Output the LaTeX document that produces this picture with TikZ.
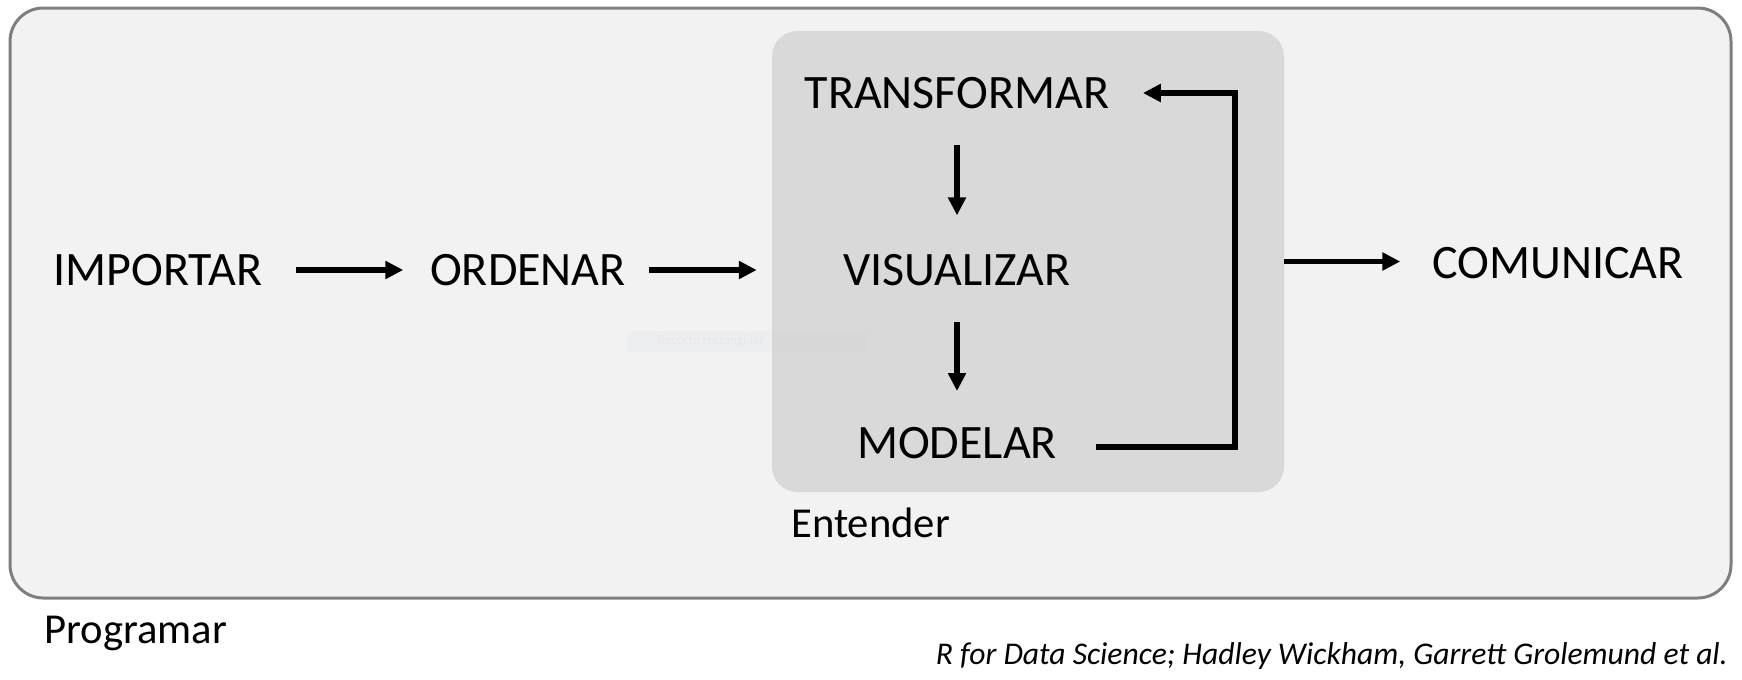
\documentclass[tikz,border=0pt]{standalone}
\usepackage{fontspec}
\setmainfont{Carlito}
\usetikzlibrary{arrows.meta,positioning}

\definecolor{outerfill}{RGB}{242,242,242}
\definecolor{outerline}{RGB}{127,127,127}
\definecolor{innerfill}{RGB}{217,217,217}
\definecolor{ghost}{RGB}{200,205,215}
\definecolor{ghosttext}{RGB}{230,230,232}

\begin{document}
\begin{tikzpicture}[x=0.75pt,y=-0.75pt,
  every node/.style={inner sep=0pt},
  stage/.style={font=\fontsize{36}{43}\selectfont},
  caption/.style={font=\fontsize{32}{38}\selectfont},
  flow/.style={line width=4pt,-{Triangle[length=13.5pt,width=13pt]}}]
\useasboundingbox (0,0) rectangle (1742,679);
    % frames
    \draw[fill=outerfill,draw=outerline,line width=2.25pt,rounded corners=25pt]
        (10,8) rectangle (1731,598);
    \node[fill=innerfill,rounded corners=19pt,minimum width=384pt,minimum height=345.75pt]
        (Understand) at (1028,261.5) {};
    \path[fill=ghost,fill opacity=0.1] (627,331) rectangle (866,352);
    \node[font=\fontsize{10}{12}\selectfont,text=ghosttext] (Ghost) at (711,341.5) {Recorte rectangular};

    % steps
    \node[stage] (Importar) at (158,270) {IMPORTAR};
    \node[stage] (Ordenar) at (528,270) {ORDENAR};
    \node[stage] (Transformar) at (957,93) {TRANSFORMAR};
    \node[stage] (Visualizar) at (957,270) {VISUALIZAR};
    \node[stage] (Modelar) at (957,443) {MODELAR};
    \node[stage] (Comunicar) at (1558,263) {COMUNICAR};

    \draw[flow] ([xshift=25pt]Importar.east) -- ([xshift=-20pt]Ordenar.west);
    \draw[flow] ([xshift=17pt]Ordenar.east) -- ++(108,0);
    \draw[flow] ([yshift=-27pt]Transformar.south) -- ([yshift=29pt]Visualizar.north);
    \draw[flow] ([yshift=-27pt]Visualizar.south) -- ([yshift=27pt]Modelar.north);
    \draw[flow] ([xshift=29pt,yshift=-3pt]Modelar.east) -- ++(139,0) |- ([xshift=25pt]Transformar.east);
    \draw[flow] (Understand.east) -- ++(116,0);

    % captions
    \begin{scope}[every node/.style={caption,inner sep=0pt}]
      \node[anchor=base west] (Entender) at (791,537) {Entender};
      \node[anchor=base west] (Programar) at (44,643) {Programar};
    \end{scope}
    \node[anchor=base east,font=\fontsize{23.7}{28}\selectfont\itshape] (Source) at (1728,664)
        {R for Data Science; Hadley Wickham, Garrett Grolemund et al.};
\end{tikzpicture}
\end{document}
